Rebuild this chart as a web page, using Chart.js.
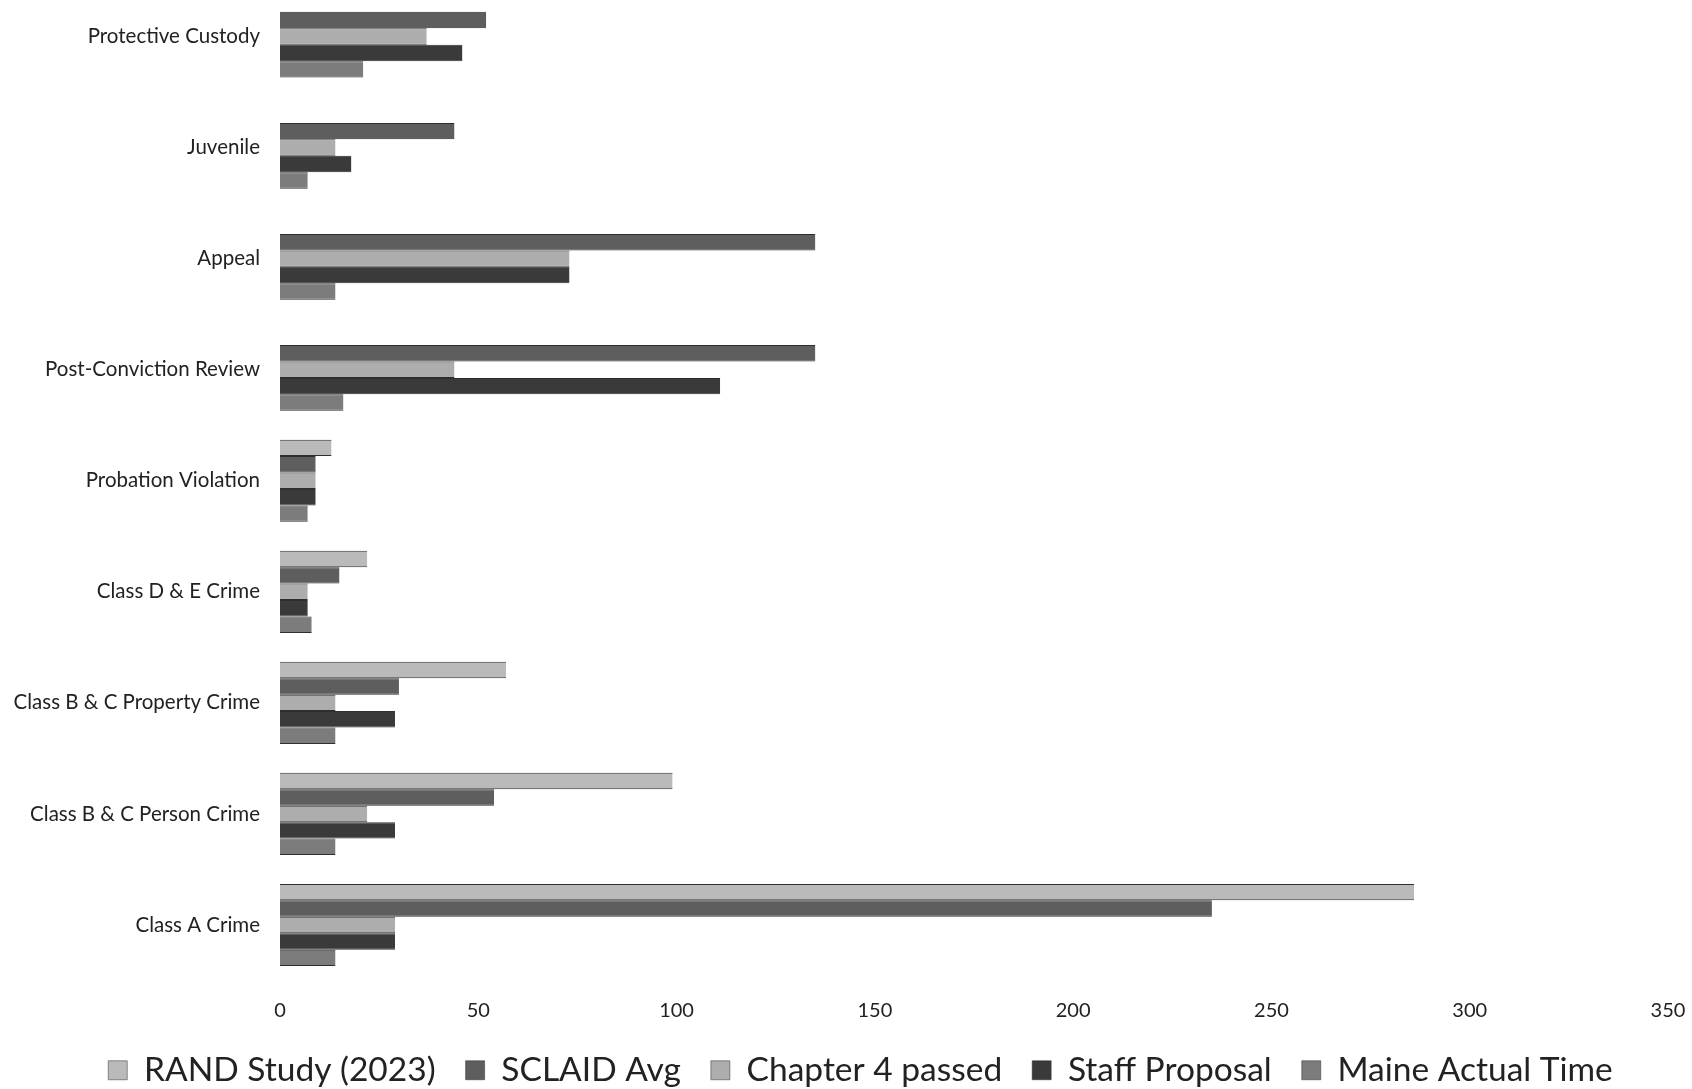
<!DOCTYPE html>
<html><head><meta charset="utf-8">
<script src="https://cdn.jsdelivr.net/npm/chart.js@4/dist/chart.umd.min.js"></script>
<style>html,body{margin:0;padding:0;background:#fff;overflow:hidden;width:1692px;height:1089px}
#c{position:absolute;left:0;top:-19px}</style>
</head><body>
<canvas id="c" width="1692" height="1116"></canvas>
<script>
const categories = ["Protective Custody", "Juvenile", "Appeal", "Post-Conviction Review", "Probation Violation", "Class D & E Crime", "Class B & C Property Crime", "Class B & C Person Crime", "Class A Crime"];
const seriesNames = ["RAND Study (2023)", "SCLAID Avg", "Chapter 4 passed", "Staff Proposal", "Maine Actual Time"];
const randStudy = [null, null, null, null, 13, 22, 57, 99, 286];
const sclaidAvg = [52, 44, 135, 135, 9, 15, 30, 54, 235];
const chapter4 = [37, 14, 73, 44, 9, 7, 14, 22, 29];
const staffProposal = [46, 18, 73, 111, 9, 7, 29, 29, 29];
const maineActual = [21, 7, 14, 16, 7, 8, 14, 14, 14];
const xTicks = [0, 50, 100, 150, 200, 250, 300, 350];

const colors = ["#bababa", "#5e5e5e", "#adadad", "#3a3a3a", "#7c7c7c"];
const seriesValues = [randStudy, sclaidAvg, chapter4, staffProposal, maineActual];

const legendShift = {
  id: 'legendShift',
  afterLayout(chart) {
    const l = chart.legend;
    if (l) { l.left += 21.5; l.right += 21.5; }
  }
};

new Chart(document.getElementById('c').getContext('2d'), {
  type: 'bar',
  data: {
    labels: categories,
    datasets: seriesNames.map((n, i) => ({
      label: n,
      data: seriesValues[i],
      backgroundColor: colors[i],
      borderColor: '#2e2e2e',
      borderWidth: { top: 1, bottom: 1, left: 0, right: 0 },
      borderSkipped: 'start'
    }))
  },
  plugins: [legendShift],
  options: {
    indexAxis: 'y',
    responsive: false,
    animation: false,
    layout: { padding: { top: 0, left: 10, right: 24, bottom: 0 } },
    datasets: { bar: { categoryPercentage: 0.74, barPercentage: 1 } },
    plugins: {
      tooltip: { enabled: false },
      legend: {
        position: 'bottom',
        labels: { boxWidth: 19, boxHeight: 19, font: { family: 'Lato', size: 33.5 }, color: '#222', padding: 30 }
      }
    },
    scales: {
      x: {
        min: 0, max: 350,
        afterBuildTicks(s) { s.ticks = xTicks.map(v => ({ value: v })); },
        afterFit(s) { s.height = 43; s.paddingLeft = 0; s.paddingRight = 0; },
        ticks: { font: { family: 'Lato', size: 20 }, color: '#222', padding: 18 },
        grid: { display: false, drawTicks: false },
        border: { display: false }
      },
      y: {
        afterFit(s) { s.width = 270; s.paddingTop = 0; s.paddingBottom = 0; },
        ticks: { font: { family: 'Lato', size: 20.5 }, color: '#222', padding: 20 },
        grid: { display: false, drawTicks: false },
        border: { display: false }
      }
    }
  }
});
</script>
</body></html>
